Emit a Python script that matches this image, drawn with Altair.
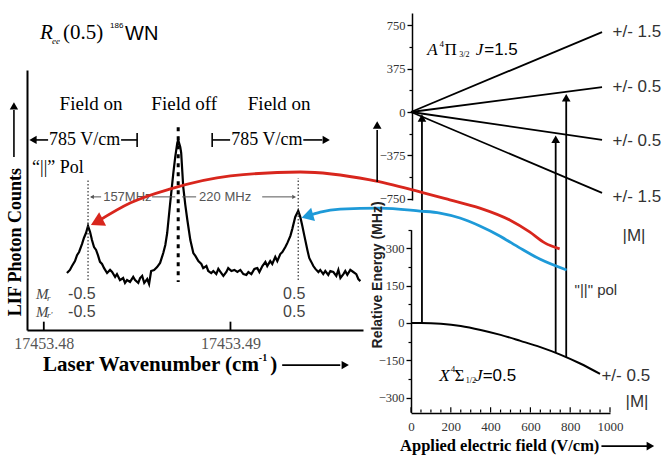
import altair as alt
import pandas as pd

# ---------------- data ----------------
WN_BASE = 17453.48
# LIF spectrum: wavenumber above 17453.48 (units of 1e-5 cm^-1) and counts (arb.)
SPEC_OFF = [124, 140, 151, 167, 178, 189, 205, 215, 226, 237,
            248, 258, 269, 280, 290, 301, 312, 323, 339, 355,
            366, 382, 392, 408, 425, 435, 446, 462, 479, 489,
            506, 516, 527, 538, 554, 564, 575, 591, 607, 623,
            640, 651, 661, 677, 694, 704, 715, 720, 731, 736,
            747, 758, 769, 785, 801, 812, 828, 844, 854, 871,
            881, 897, 908, 924, 935, 951, 962, 978, 988, 1005,
            1021, 1037, 1053, 1069, 1085, 1096, 1112, 1128, 1144, 1155,
            1171, 1187, 1197, 1213, 1224, 1240, 1251, 1267, 1278, 1294,
            1305, 1321, 1331, 1347, 1363, 1374, 1385, 1396, 1412, 1422,
            1433, 1444, 1455, 1471, 1481, 1497, 1508, 1524, 1535, 1551,
            1567, 1578, 1589, 1605, 1615, 1626, 1642, 1658, 1674, 1685,
            1696]
SPEC_INT = [21.9, 23.1, 24.6, 26.5, 28.8, 30.0, 33.1, 35.4, 37.3, 40.0,
            37.7, 34.6, 31.9, 30.8, 28.8, 26.2, 25.4, 23.8, 21.9, 23.1,
            22.3, 20.4, 21.5, 19.2, 20.0, 18.1, 19.2, 18.5, 20.4, 19.2,
            18.1, 20.0, 20.8, 18.1, 19.6, 17.7, 22.7, 23.1, 24.2, 25.8,
            29.6, 32.7, 37.3, 48.8, 60.4, 66.5, 71.9, 73.1, 70.4, 68.1,
            55.0, 48.1, 42.3, 34.6, 29.6, 28.5, 26.5, 25.4, 23.8, 24.6,
            22.7, 21.9, 22.7, 21.5, 23.5, 21.9, 20.8, 22.3, 23.8, 22.7,
            23.1, 22.3, 23.1, 21.5, 21.2, 22.3, 21.5, 23.5, 23.8, 22.3,
            24.6, 26.2, 24.6, 26.5, 25.4, 28.1, 26.5, 29.2, 30.0, 31.9,
            33.5, 36.2, 38.8, 43.5, 45.8, 43.5, 40.0, 36.2, 30.8, 27.7,
            26.2, 24.6, 23.5, 22.3, 23.1, 21.5, 22.7, 21.2, 22.7, 22.3,
            20.8, 23.1, 20.0, 21.5, 22.7, 21.2, 23.1, 22.3, 21.5, 19.6,
            18.8]
PEAK_RED_OFF, PEAK_OFF_OFF, PEAK_BLUE_OFF = 237, 720, 1363

# Upper state A4Pi3/2 J=1.5 Stark levels: energy (MHz) at the end field
FIELD_END = 960
UP_LABELS = ["+/- 1.5", "+/- 0.5", "+/- 0.5", "+/- 1.5"]
UP_END_E = [690, 215, -241, -698]
UP_LABEL_E = [691, 216, -250, -734]

# Ground state X4Sigma1/2 J=0.5 (field V/cm, energy MHz)
GS_F = [0, 50, 150, 250, 350, 450, 550, 650, 750, 850, 950]
GS_E = [0, 0, -3, -12, -28, -48, -72, -97, -127, -163, -205]

# transitions: field, ground energy, upper energy
TR_F = [55, 727, 780]
TR_EG = [0, -120, -138]
TR_EU = [0, -183, 175]

# transition-frequency curves (lower panel units, extended to the spectrum)
RED_F = [-1579, -1409, -1208, -907, -556, -206, 45, 195, 346, 496, 596, 672, 747]
RED_E = [406, 483, 539, 591, 607, 575, 527, 495, 462, 414, 366, 322, 298]
BLUE_F = [-521, -456, -356, -155, 45, 145, 246, 346, 446, 546, 647, 782]
BLUE_E = [430, 446, 458, 462, 450, 442, 422, 390, 350, 302, 257, 213]

LEFT_TICKS = [17453.48, 17453.49]
UP_TICKS = [-750, -375, 0, 375, 750]
UP_MINOR = [-562.5, -187.5, 187.5, 562.5]
LOW_TICKS = [-300, -150, 0, 150, 300]
LOW_MINOR = [-225, -75, 75, 225, 375]
FIELD_TICKS = [0, 200, 400, 600, 800, 1000]

SERIF = "Liberation Serif"
SANS = "Liberation Sans"
RED = "#d8261d"
BLUE = "#1e9ad8"

# ---------------- panel scales (domain, pixel range) ----------------
PANELS = {
    'left': ([17453.4791, 17453.4971], [27, 363], [0, 100], [330, 70]),
    'up': ([0, 1000], [411, 610], [-760, 855], [200, 13]),
    'low': ([0, 1000], [411, 610], [-360, 375], [412.5, 229.7]),
}


def up_px(e):
    d, r = PANELS['up'][2], PANELS['up'][3]
    return r[0] + (e - d[0]) * (r[1] - r[0]) / (d[1] - d[0])


def low_val(px):
    d, r = PANELS['low'][2], PANELS['low'][3]
    return d[0] + (px - r[0]) * (d[1] - d[0]) / (r[1] - r[0])


def sc(d, r):
    return alt.Scale(domain=d, range=r, nice=False, zero=False)


def enc(p, xaxis=None, yaxis=None, x2=False, y2=False):
    xd, xr, yd, yr = PANELS[p]
    e = {'x': alt.X('x:Q', scale=sc(xd, xr), axis=xaxis),
         'y': alt.Y('y:Q', scale=sc(yd, yr), axis=yaxis)}
    if x2:
        e['x2'] = alt.X2('x2:Q')
    if y2:
        e['y2'] = alt.Y2('y2:Q')
    return e


def frame(p, rows, cols):
    df = pd.DataFrame(rows, columns=cols)
    if p == 'left':
        for c in ('x', 'x2'):
            if c in df:
                df[c] = WN_BASE + df[c] * 1e-5
    return df


def T(p, rows, size, font=SERIF, style='normal', weight='normal', align='left',
      color='black', angle=0):
    mk = dict(align=align, baseline='middle', font=font, fontSize=size,
              fontStyle=style, fontWeight=weight, color=color)
    if angle:
        mk['angle'] = angle
    return alt.Chart(frame(p, rows, ['t', 'x', 'y'])).mark_text(**mk).encode(
        text='t:N', **enc(p))


def R(p, rows, width=1.6, color='black', dash=None):
    mk = dict(color=color, strokeWidth=width)
    if dash:
        mk['strokeDash'] = dash
    return alt.Chart(frame(p, rows, ['x', 'y', 'x2', 'y2'])).mark_rule(**mk).encode(
        **enc(p, x2=True, y2=True))


def H(p, rows, size, color='black'):
    return alt.Chart(frame(p, rows, ['x', 'y', 'a'])).mark_point(
        shape='triangle-up', filled=True, size=size, color=color, opacity=1).encode(
        angle=alt.Angle('a:Q', scale=None), **enc(p))


layers = []

# ---------------- left panel ----------------
ax_lx = alt.Axis(orient='bottom', offset=-126, values=LEFT_TICKS, format='.2f',
                 tickSize=0, domainWidth=2, domainColor='black', labelFont=SERIF,
                 labelFontSize=16, labelColor='#555', labelPadding=5, labelOverlap=False,
                 title=None, grid=False)
ax_ly = alt.Axis(orient='left', offset=-27, ticks=False, labels=False, domainWidth=2,
                 domainColor='black', title=None, grid=False)
spec = frame('left', list(zip(SPEC_OFF, SPEC_INT)), ['x', 'y'])
layers.append(alt.Chart(spec).mark_line(color='black', strokeWidth=2.2).encode(
    **enc('left', xaxis=ax_lx, yaxis=ax_ly)))
# inward ticks
layers.append(R('left', [((t - WN_BASE) * 1e5, 0, (t - WN_BASE) * 1e5, 3.2) for t in LEFT_TICKS], width=1.8))
# peak markers
layers.append(R('left', [(PEAK_RED_OFF, 19.2, PEAK_RED_OFF, 57.7),
                         (PEAK_BLUE_OFF, 19.2, PEAK_BLUE_OFF, 58.5)], width=1.2, color='#333', dash=[1.5, 2]))
layers.append(R('left', [(PEAK_OFF_OFF, 78, PEAK_OFF_OFF, 18.5)], width=3, dash=[4, 5]))
# brackets / arrows
layers.append(R('left', [(-58, 73.1, 23, 73.1), (414, 73.1, 500, 73.1), (500, 70.4, 500, 75.8),
                         (902, 70.4, 902, 75.8), (902, 73.1, 998, 73.1), (1390, 73.1, 1492, 73.1),
                         (-160, 66.5, -160, 84.6), (1277, -13.5, 1588, -13.5)], width=1.6))
layers.append(H('left', [(-58, 73.1, 270), (1513, 73.1, 90), (-160, 86.2, 0), (1615, -13.5, 90)], 70))
layers.append(R('left', [(253, 51.2, 307, 51.2), (580, 51.2, 704, 51.2), (741, 51.2, 816, 51.2),
                         (1170, 51.2, 1330, 51.2)], width=1, color='#555'))
layers.append(H('left', [(258, 51.2, 270), (1341, 51.2, 90)], 20, color='#555'))

# left texts
layers.append(T('left', [("R", -20, 114.2)], 21, style='italic'))
layers.append(T('left', [("ee", 44, 111.3)], 9, style='italic'))
layers.append(T('left', [("(0.5)", 103, 114.2)], 21))
layers.append(T('left', [("186", 355, 116.8)], 8, font=SANS))
layers.append(T('left', [("WN", 435, 113.8)], 20, font=SANS))
layers.append(T('left', [("Field on", 253, 86.9), ("Field off", 752, 86.9), ("Field on", 1261, 86.9)],
                19, align='center'))
layers.append(T('left', [("785 V/cm", 28, 73.1), ("785 V/cm", 1004, 73.1)], 18))
layers.append(T('left', [("\u201c||\u201d Pol", -63, 62.3)], 18))
layers.append(T('left', [("157MHz", 318, 51.2), ("220 MHz", 832, 51.2)], 13, font=SANS, color='#555'))
layers.append(T('left', [("M", -42, 13.8), ("M", -42, 6.9)], 15, style='italic', color='#444'))
layers.append(T('left', [("r", 17, 12.5), ("r'", 17, 5.6)], 9, style='italic', color='#444'))
layers.append(T('left', [("-0.5", 130, 13.8), ("-0.5", 130, 6.9), ("0.5", 1282, 13.8), ("0.5", 1282, 6.9)],
                16, font=SANS, color='#444'))
layers.append(T('left', [("Laser Wavenumber (cm", -4, -13.5)], 21, weight='bold'))
layers.append(T('left', [("-1", 1152, -10.6)], 10, weight='bold'))
layers.append(T('left', [(")", 1213, -13.5)], 21, weight='bold'))
layers.append(T('left', [("LIF Photon Counts", -149, 33.8)], 18, weight='bold', align='center', angle=270))

# ---------------- right upper panel ----------------
ax_up = alt.Axis(orient='left', offset=-412, values=UP_TICKS, tickSize=5, tickWidth=1.3,
                 tickColor='black', domainWidth=1.5, domainColor='black', labelFont=SERIF,
                 labelFontSize=12.5, labelColor='#333', labelPadding=2, labelOverlap=False,
                 title=None, grid=False)
ax_up_minor = alt.Axis(orient='left', offset=-412, values=UP_MINOR, tickSize=3, tickWidth=1.2,
                       tickColor='black', labels=False, domain=False, title=None, grid=False)
up_rows = []
for i, e in enumerate(UP_END_E):
    up_rows += [(i, 0, 0), (i, FIELD_END, e)]
up_df = pd.DataFrame(up_rows, columns=['m', 'x', 'y'])
layers.append(alt.Chart(up_df).mark_line(color='black', strokeWidth=1.8).encode(
    detail='m:N', **enc('up', yaxis=ax_up)))
layers.append(alt.Chart(up_df).mark_line(opacity=0).encode(
    detail='m:N', **enc('up', yaxis=ax_up_minor)))
layers.append(T('up', [(l, 1013, e) for l, e in zip(UP_LABELS, UP_LABEL_E)], 17, font=SANS, color='#333'))
layers.append(T('up', [("A", 82, 535)], 17, style='italic'))
layers.append(T('up', [("4", 143, 590)], 9))
layers.append(T('up', [("\u03a0", 168, 535)], 17))
layers.append(T('up', [("3/2", 243, 490)], 8))
layers.append(T('up', [("J", 326, 535)], 17, style='italic'))
layers.append(T('up', [("=1.5", 368, 535)], 17, font=SANS))
# arrowheads of transitions
layers.append(alt.Chart(pd.DataFrame({'x': TR_F, 'y': TR_EU, 'a': [0, 0, 0]})).mark_point(
    shape='triangle-up', filled=True, size=75, color='black', opacity=1, yOffset=6).encode(
    angle=alt.Angle('a:Q', scale=None), **enc('up')))

# ---------------- right lower panel ----------------
ax_low = alt.Axis(orient='left', offset=-411, values=LOW_TICKS, tickSize=5, tickWidth=1.3,
                  tickColor='black', domainWidth=1.5, domainColor='black', labelFont=SERIF,
                  labelFontSize=12.5, labelColor='#333', labelPadding=2, labelOverlap=False,
                  title=None, grid=False)
ax_low_minor = alt.Axis(orient='left', offset=-411, values=LOW_MINOR, tickSize=3, tickWidth=1.2,
                        tickColor='black', labels=False, domain=False, title=None, grid=False)
ax_field = alt.Axis(orient='bottom', offset=-43, values=FIELD_TICKS, format='d', tickSize=0,
                    domainWidth=1.5, domainColor='black', labelFont=SERIF, labelFontSize=13,
                    labelColor='#333', labelPadding=7, labelOverlap=False, labelFlush=False,
                    labelBound=False, title=None, grid=False)
gs = pd.DataFrame({'x': GS_F, 'y': GS_E})
layers.append(alt.Chart(gs).mark_line(color='black', strokeWidth=2, interpolate='monotone').encode(
    **enc('low', xaxis=ax_field, yaxis=ax_low)))
layers.append(alt.Chart(gs).mark_line(opacity=0).encode(**enc('low', yaxis=ax_low_minor)))
# inward field ticks
layers.append(R('low', [(f, -360, f, -360 + (21 if f % 200 == 0 else 12)) for f in range(0, 1001, 50)],
                width=1.2))
# transition stems
layers.append(R('low', [(f, eg, f, low_val(up_px(eu) + 8)) for f, eg, eu in zip(TR_F, TR_EG, TR_EU)],
                width=1.8))
# red / blue curves
layers.append(alt.Chart(pd.DataFrame({'x': RED_F, 'y': RED_E})).mark_line(
    color=RED, strokeWidth=2.8, interpolate='monotone').encode(**enc('low')))
layers.append(alt.Chart(pd.DataFrame({'x': BLUE_F, 'y': BLUE_E})).mark_line(
    color=BLUE, strokeWidth=2.8, interpolate='monotone').encode(**enc('low')))
layers.append(H('low', [(RED_F[0], RED_E[0], 243)], 230, color=RED))
layers.append(H('low', [(BLUE_F[0], BLUE_E[0], 254)], 190, color=BLUE))
# axis-title arrows
layers.append(R('low', [(-170, 567, -170, 776), (957, -495, 1188, -495)], width=1.6))
layers.append(H('low', [(-170, 796, 0), (1203, -495, 90)], 75))
layers.append(T('low', [("Relative Energy (MHz)", -165, 193)], 14, font=SANS, weight='bold',
                align='center', angle=270, color='#222'))
layers.append(T('low', [("Applied electric field (V/cm)", -55, -495)], 16.5, weight='bold'))
layers.append(T('low', [("|M|", 1063, 350), ("+/- 0.5", 957, -213), ("|M|", 1078, -318)], 17,
                font=SANS, color='#333'))
layers.append(T('low', [("\"||\" pol", 822, 133)], 15, font=SANS, color='#333'))
layers.append(T('low', [("X", 142, -213)], 17, style='italic'))
layers.append(T('low', [("4", 200, -187)], 9))
layers.append(T('low', [("\u03a3", 218, -213)], 17))
layers.append(T('low', [("1/2", 275, -235)], 8))
layers.append(T('low', [("J", 322, -213)], 17, style='italic'))
layers.append(T('low', [("=0.5", 360, -213)], 17, font=SANS))

chart = alt.LayerChart(layer=layers).resolve_scale(
    x='independent', y='independent'
).properties(
    width=665, height=456, autosize=alt.AutoSizeParams(type='none'), padding=0,
    background='white'
).configure_view(stroke='transparent')

chart.save("out.html", embed_options={"renderer": "svg", "actions": False})
